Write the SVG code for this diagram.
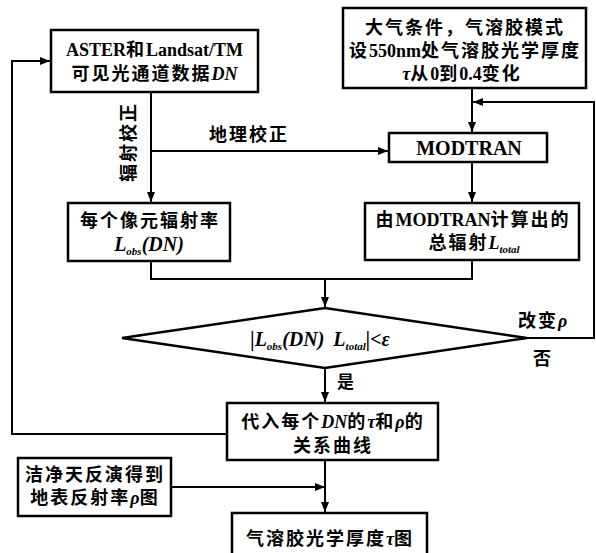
<svg xmlns="http://www.w3.org/2000/svg" width="596" height="553" viewBox="0 0 596 553">
<style>
.box{fill:#fff;stroke:#000;stroke-width:2.5}
.ln{fill:none;stroke:#000;stroke-width:2}
.t{font-family:"Liberation Serif","Noto Sans CJK SC",serif;font-weight:bold;font-size:18px;fill:#000;text-anchor:middle}
.s{text-anchor:start}
.c{letter-spacing:2px}
.i{font-style:italic}
.sub{font-style:italic;font-size:11px}
</style>
<defs>
<marker id="ah" viewBox="0 0 10 8" refX="10" refY="4" markerWidth="10" markerHeight="8" markerUnits="userSpaceOnUse" orient="auto">
<path d="M0,0 L10,4 L0,8 z" fill="#000"/>
</marker>
</defs>
<g id="connectors">
<path class="ln" d="M227,434 H12 V61 H50" marker-end="url(#ah)"/>
<path class="ln" d="M151,92 V202" marker-end="url(#ah)"/>
<path class="ln" d="M151,151 H388" marker-end="url(#ah)"/>
<path class="ln" d="M472,88 V132" marker-end="url(#ah)"/>
<path class="ln" d="M527,338 H594 V102 H473" marker-end="url(#ah)"/>
<path class="ln" d="M472,162 V202" marker-end="url(#ah)"/>
<path class="ln" d="M151,261 V279 H472 V260"/>
<path class="ln" d="M325,279 V307" marker-end="url(#ah)"/>
<path class="ln" d="M325,368 V402" marker-end="url(#ah)"/>
<path class="ln" d="M325,460 V512" marker-end="url(#ah)"/>
<path class="ln" d="M171,487 H325" marker-end="url(#ah)"/>
</g>
<g id="n_aster">
<rect class="box" x="51" y="30" width="207" height="62"/>
<text class="t" x="154.5" y="56">ASTER<tspan class="c">和</tspan>Landsat/TM</text>
<text class="t" x="154.5" y="80"><tspan class="c">可见光通道数据</tspan><tspan class="i">DN</tspan></text>
</g>
<g id="n_atmos">
<rect class="box" x="343" y="8" width="243" height="80"/>
<text class="t c" x="465" y="34">大气条件，气溶胶模式</text>
<text class="t" x="465" y="57"><tspan class="c">设</tspan>550nm<tspan class="c">处气溶胶光学厚度</tspan></text>
<text class="t" x="462" y="80"><tspan class="i">τ</tspan><tspan class="c">从</tspan>0<tspan class="c">到</tspan>0.4<tspan class="c">变化</tspan></text>
</g>
<g id="n_modtran">
<rect class="box" x="389" y="133" width="158" height="29"/>
<text class="t" x="469" y="155" style="font-size:20px">MODTRAN</text>
</g>
<g id="n_lobs">
<rect class="box" x="68" y="203" width="162" height="58"/>
<text class="t c" x="150" y="227">每个像元辐射率</text>
<text class="t i" x="149" y="251" style="font-size:20px">L<tspan class="sub" dy="4">obs</tspan><tspan dy="-4">(DN)</tspan></text>
</g>
<g id="n_ltotal">
<rect class="box" x="365" y="203" width="214" height="57"/>
<text class="t" x="473" y="226"><tspan class="c">由</tspan>MODTRAN<tspan class="c">计算出的</tspan></text>
<text class="t" x="474" y="249"><tspan class="c">总辐射</tspan><tspan class="i">L</tspan><tspan class="sub" dy="4">total</tspan></text>
</g>
<g id="n_decision">
<path class="box" d="M122,338 L325,308 L527,338 L325,368 Z"/>
<text class="t i" x="320" y="346" style="font-size:20px">|L<tspan class="sub" dy="4">obs</tspan><tspan dy="-4">(DN)</tspan><tspan dx="9">L</tspan><tspan class="sub" dy="4">total</tspan><tspan dy="-4">|&lt;ε</tspan></text>
</g>
<g id="n_curve">
<rect class="box" x="227" y="403" width="211" height="57"/>
<text class="t" x="333" y="428"><tspan class="c">代入每个</tspan><tspan class="i">DN</tspan><tspan class="c">的</tspan><tspan class="i">τ</tspan><tspan class="c">和</tspan><tspan class="i">ρ</tspan><tspan class="c">的</tspan></text>
<text class="t c" x="333" y="452">关系曲线</text>
</g>
<g id="n_clean">
<rect class="box" x="18" y="458" width="153" height="58"/>
<text class="t c" x="95" y="481">洁净天反演得到</text>
<text class="t" x="95" y="504"><tspan class="c">地表反射率</tspan><tspan class="i">ρ</tspan><tspan class="c">图</tspan></text>
</g>
<g id="n_aod">
<rect class="box" x="232" y="513" width="195" height="44"/>
<text class="t" x="330" y="545"><tspan class="c">气溶胶光学厚度</tspan><tspan class="i">τ</tspan><tspan class="c">图</tspan></text>
</g>
<g id="labels">
<text class="t s c" x="209" y="141">地理校正</text>
<text class="t c" transform="translate(135,142) rotate(-90)">辐射校正</text>
<text class="t s" x="337" y="388" style="font-size:17px">是</text>
<text class="t s" x="518" y="327"><tspan class="c">改变</tspan><tspan class="i">ρ</tspan></text>
<text class="t s" x="533" y="365">否</text>
</g>
</svg>
